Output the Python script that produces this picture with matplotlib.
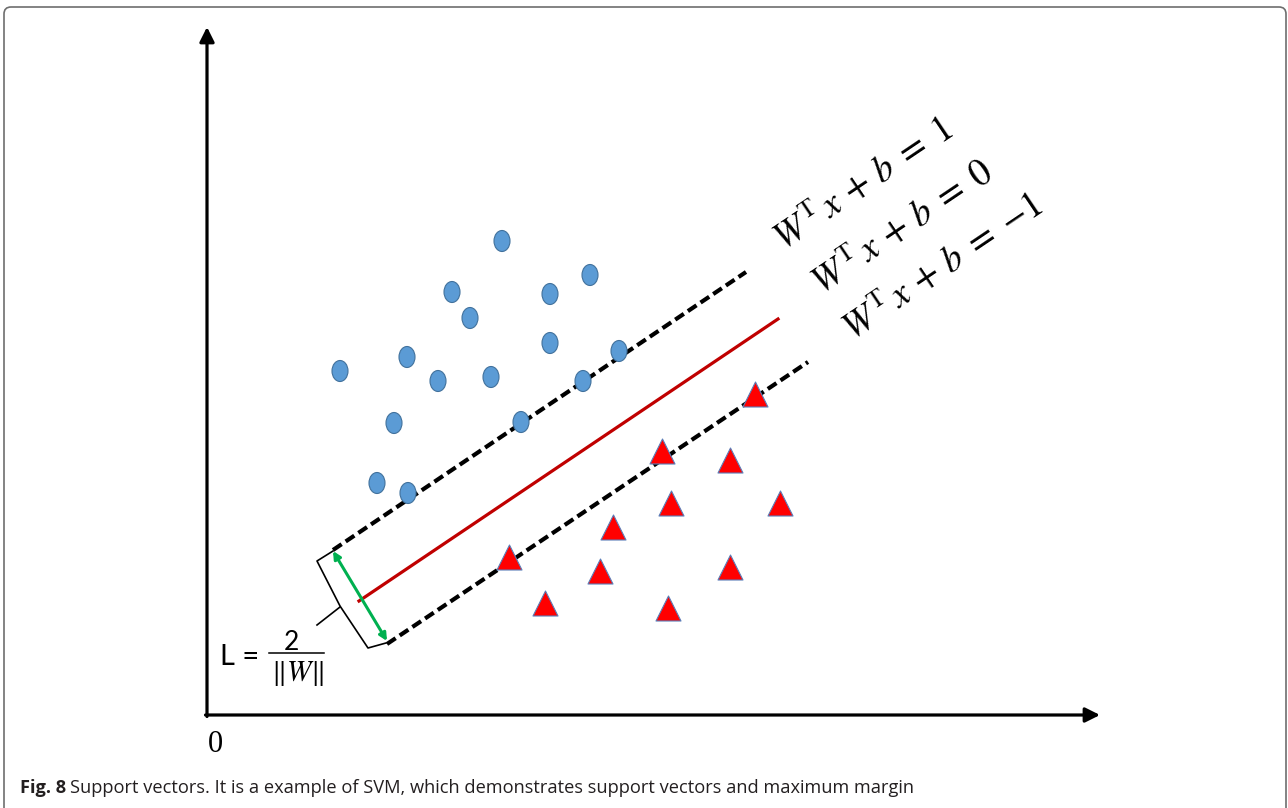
import matplotlib
matplotlib.use("Agg")
import matplotlib.pyplot as plt
from matplotlib.patches import Ellipse, FancyBboxPatch
import numpy as np

plt.rcParams["mathtext.fontset"] = "stix"
plt.rcParams["lines.scale_dashes"] = False

# class +1 (blue circles), coordinates in pixels from the axis origin
circle_x = [295, 383, 245, 343, 263, 343, 412, 133, 200, 231, 284, 376, 187, 314, 170, 201]
circle_y = [474, 440, 423, 421, 397, 372, 364, 344, 358, 334, 338, 334, 292, 293, 232, 222]

# class -1 (red triangles)
tri_x = [548, 455, 523, 464, 573, 406, 302, 393, 523, 338, 461]
tri_y = [321, 264, 255, 212, 212, 188, 158, 144, 148, 112, 107]

# hyperplanes: (x0, y0, x1, y1)
upper_margin = [126, 165, 539, 443]
decision = [152, 114, 571, 396]
lower_margin = [180, 71, 601, 353]

eq_labels = [r"$W^{\mathrm{T}}\,x\,+\,b\;=\;1$",
             r"$W^{\mathrm{T}}\,x\,+\,b\;=\;0$",
             r"$W^{\mathrm{T}}\,x\,+\,b\;=\;{-1}$"]
eq_anchor_x = [576, 614, 645]
eq_anchor_y = [463, 419, 373]

caption_bold = "Fig. 8"
caption_rest = "Support vectors. It is a example of SVM, which demonstrates support vectors and maximum margin"

fig = plt.figure(figsize=(12.88, 8.08), dpi=100)
ax = fig.add_axes([0, 0, 1, 1])
ax.set_xlim(-207, 1081)
ax.set_ylim(-93, 715)
ax.axis("off")

# outer frame
frame = FancyBboxPatch((-203, -130), 1282, 838, boxstyle="round,pad=0,rounding_size=7",
                       fc="none", ec="#6e6e6e", lw=1.2, clip_on=True)
ax.add_patch(frame)

# axes arrows
arrow_kw = dict(arrowstyle="-|>", lw=2.3, color="black", mutation_scale=22, shrinkA=0, shrinkB=0)
ax.annotate("", xy=(0, 688), xytext=(0, -1.5), arrowprops=arrow_kw)
ax.annotate("", xy=(893, 0), xytext=(-1.5, 0), arrowprops=arrow_kw)
ax.text(8, -30, "0", fontsize=22, family="Liberation Serif", ha="center", va="center")

# margins and decision boundary
ax.plot(upper_margin[::2], upper_margin[1::2], color="black", lw=3.0, dashes=(7.5, 3.5),
        dash_capstyle="butt", zorder=2)
ax.plot(lower_margin[::2], lower_margin[1::2], color="black", lw=3.0, dashes=(7.5, 3.5),
        dash_capstyle="butt", zorder=2)
ax.plot(decision[::2], decision[1::2], color="#C00000", lw=2.3, zorder=2)

# points
for cx, cy in zip(circle_x, circle_y):
    ax.add_patch(Ellipse((cx, cy), 16, 21, fc="#5B9BD5", ec="#41719C", lw=0.8, zorder=3))
ax.scatter(tri_x, tri_y, marker="^", s=18 ** 2, c="#FF0000", edgecolors="#5B7DB8",
           linewidths=0.8, zorder=3)

# margin width arrow and brace
ax.annotate("", xy=(126, 164), xytext=(180, 74),
            arrowprops=dict(arrowstyle="<|-|>", lw=2.2, color="#00B050", mutation_scale=11,
                            shrinkA=0, shrinkB=0), zorder=4)
brace_x = [126, 110, 133, 161, 179]
brace_y = [164, 154, 109, 67, 72]
ax.plot(brace_x, brace_y, color="black", lw=1.2, zorder=2)
ax.plot([133, 110], [108, 90], color="black", lw=1.2, zorder=2)

# L = 2/||W||
ax.text(13, 50, "L =", fontsize=21, family="Lato", ha="left", va="baseline")
ax.text(84, 65, "2", fontsize=19, family="Lato", ha="center", va="baseline")
ax.plot([62, 117], [62, 62], color="black", lw=1.1)
ax.text(90, 56, r"$\Vert W\Vert$", fontsize=21, ha="center", va="top")

# hyperplane equations
angle = np.degrees(np.arctan2(decision[3] - decision[1], decision[2] - decision[0]))
for lbl, tx, ty in zip(eq_labels, eq_anchor_x, eq_anchor_y):
    ax.text(tx, ty, lbl, fontsize=27, rotation=angle, rotation_mode="anchor",
            ha="left", va="baseline")

# caption
t1 = ax.text(-187, -78, caption_bold, fontsize=13.15, family="Open Sans", weight="bold",
             color="#231F20", ha="left", va="baseline")
ax.annotate(caption_rest, xy=(1, 0), xycoords=t1, xytext=(4, 0), textcoords="offset pixels",
            fontsize=13.15, family="Open Sans", color="#231F20", ha="left", va="bottom")

fig.savefig("out.png", dpi=100)
